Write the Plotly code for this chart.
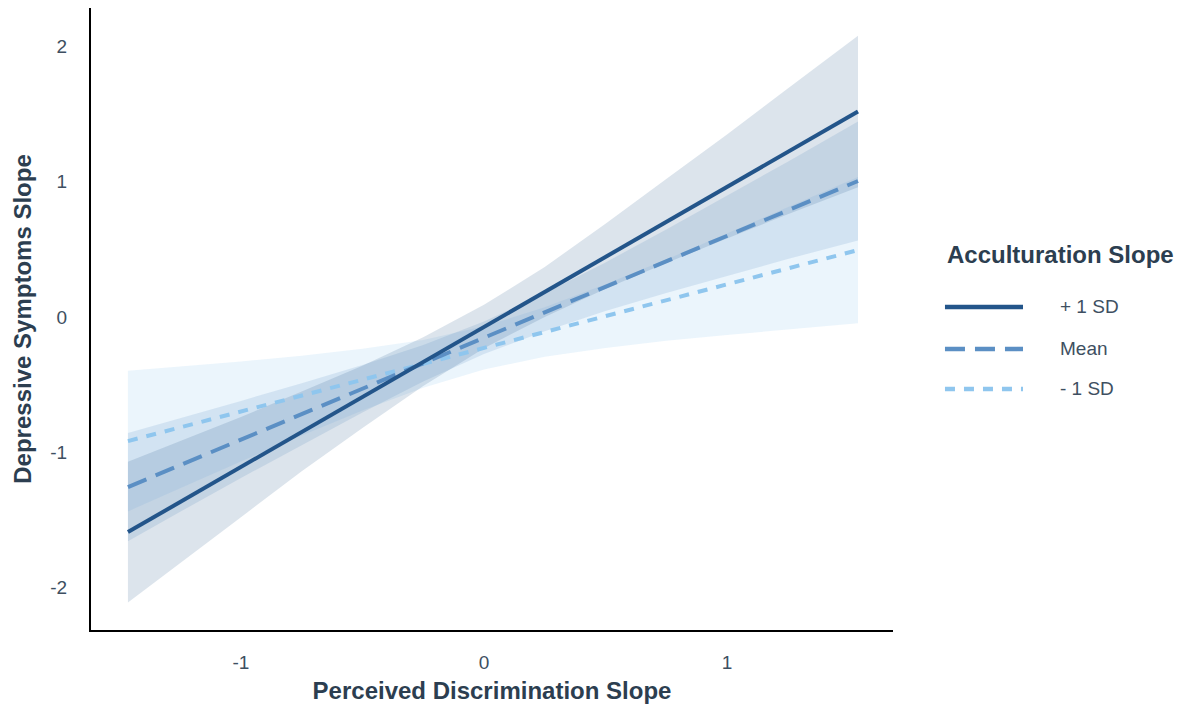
import plotly.graph_objects as go

# Simple-slopes plot: depressive-symptom slope vs perceived-discrimination slope
# at three levels of the acculturation slope, with confidence bands.

# Line endpoints (perceived discrimination slope range)
x_ends = [-1.465, 1.539]
plus_sd_line = [-1.59, 1.52]
mean_line = [-1.257, 1.006]
minus_sd_line = [-0.917, 0.495]

# Confidence band edges sampled along x
band_x = [-1.465, -1.25, -1.0, -0.75, -0.5, -0.25, 0.0, 0.25, 0.5, 0.75, 1.0, 1.25, 1.539]

plus_sd_upper = [-1.07, -0.92, -0.74, -0.55, -0.36, -0.15, 0.09, 0.37, 0.69, 1.02, 1.35, 1.69, 2.08]
plus_sd_lower = [-2.11, -1.82, -1.48, -1.14, -0.82, -0.51, -0.23, 0.00, 0.21, 0.40, 0.58, 0.76, 0.96]

mean_upper = [-0.857, -0.75, -0.62, -0.49, -0.355, -0.206, -0.033, 0.175, 0.404, 0.647, 0.895, 1.149, 1.446]
mean_lower = [-1.657, -1.44, -1.19, -0.946, -0.705, -0.476, -0.273, -0.105, 0.044, 0.177, 0.305, 0.429, 0.566]

minus_sd_upper = [-0.397, -0.366, -0.328, -0.286, -0.235, -0.169, -0.068, 0.072, 0.242, 0.425, 0.617, 0.815, 1.035]
minus_sd_lower = [-1.437, -1.266, -1.068, -0.876, -0.691, -0.523, -0.388, -0.294, -0.228, -0.175, -0.133, -0.095, -0.045]

x_ticks = [-1, 0, 1]
y_ticks = [-2, -1, 0, 1, 2]

legend_title = "Acculturation Slope"
group_labels = ["+ 1 SD", "Mean", "- 1 SD"]

COL_PLUS = "#23558a"
COL_MEAN = "#5b8fc4"
COL_MINUS = "#8fc6ee"
FILL_PLUS = "rgba(35,85,138,0.16)"
FILL_MEAN = "rgba(91,143,196,0.17)"
FILL_MINUS = "rgba(143,198,238,0.18)"

DASH_MEAN = "20px,10px"
DASH_MINUS = "10px,9px"

TITLE_COLOR = "#2c3e50"
TICK_COLOR = "#3e4f61"
FONT = "Liberation Sans, Arial, sans-serif"

fig = go.Figure()


def add_band(upper, lower, fill):
    fig.add_trace(go.Scatter(
        x=band_x + band_x[::-1],
        y=upper + lower[::-1],
        fill="toself",
        fillcolor=fill,
        line=dict(width=0),
        mode="lines",
        hoverinfo="skip",
        showlegend=False,
    ))


add_band(minus_sd_upper, minus_sd_lower, FILL_MINUS)
add_band(mean_upper, mean_lower, FILL_MEAN)
add_band(plus_sd_upper, plus_sd_lower, FILL_PLUS)

fig.add_trace(go.Scatter(x=x_ends, y=minus_sd_line, mode="lines", name=group_labels[2],
                         line=dict(color=COL_MINUS, width=4, dash=DASH_MINUS), showlegend=False))
fig.add_trace(go.Scatter(x=x_ends, y=mean_line, mode="lines", name=group_labels[1],
                         line=dict(color=COL_MEAN, width=4, dash=DASH_MEAN), showlegend=False))
fig.add_trace(go.Scatter(x=x_ends, y=plus_sd_line, mode="lines", name=group_labels[0],
                         line=dict(color=COL_PLUS, width=4), showlegend=False))

# Hand-built legend with long line samples
legend_x0, legend_x1, legend_text_x = 1.0648, 1.1621, 1.2057
legend_rows = [0.5193, 0.4518, 0.3875]
legend_styles = [(COL_PLUS, "solid"), (COL_MEAN, DASH_MEAN), (COL_MINUS, DASH_MINUS)]

fig.add_annotation(x=legend_x0, y=0.6029, xref="paper", yref="paper",
                   text="<b>" + legend_title + "</b>", showarrow=False,
                   xanchor="left", yanchor="middle",
                   font=dict(family=FONT, size=24, color=TITLE_COLOR))
for label, yrow, (col, dash) in zip(group_labels, legend_rows, legend_styles):
    fig.add_shape(type="line", xref="paper", yref="paper",
                  x0=legend_x0, x1=legend_x1, y0=yrow, y1=yrow,
                  line=dict(color=col, width=4.5, dash=dash))
    fig.add_annotation(x=legend_text_x, y=yrow, xref="paper", yref="paper",
                       text=label, showarrow=False, xanchor="left", yanchor="middle",
                       font=dict(family=FONT, size=19, color=TICK_COLOR))

fig.update_layout(
    width=1197,
    height=712,
    margin=dict(l=91, r=304, t=8, b=82),
    paper_bgcolor="white",
    plot_bgcolor="white",
    font=dict(family=FONT, color=TICK_COLOR),
    showlegend=False,
)

fig.update_xaxes(
    range=[-1.617, 1.683],
    tickvals=x_ticks,
    ticktext=[str(v) for v in x_ticks],
    showgrid=False, zeroline=False,
    showline=True, linecolor="black", linewidth=2,
    ticks="", ticklabelstandoff=14,
    tickfont=dict(family=FONT, size=19, color=TICK_COLOR),
    title=dict(text="<b>Perceived Discrimination Slope</b>", standoff=10,
               font=dict(family=FONT, size=24, color=TITLE_COLOR)),
)
fig.update_yaxes(
    range=[-2.314, 2.285],
    tickvals=y_ticks,
    ticktext=[str(v) for v in y_ticks],
    showgrid=False, zeroline=False,
    showline=True, linecolor="black", linewidth=2,
    ticks="", ticklabelstandoff=18,
    tickfont=dict(family=FONT, size=19, color=TICK_COLOR),
    title=dict(text="<b>Depressive Symptoms Slope</b>", standoff=12,
               font=dict(family=FONT, size=24, color=TITLE_COLOR)),
)

fig.write_html("out.html")
